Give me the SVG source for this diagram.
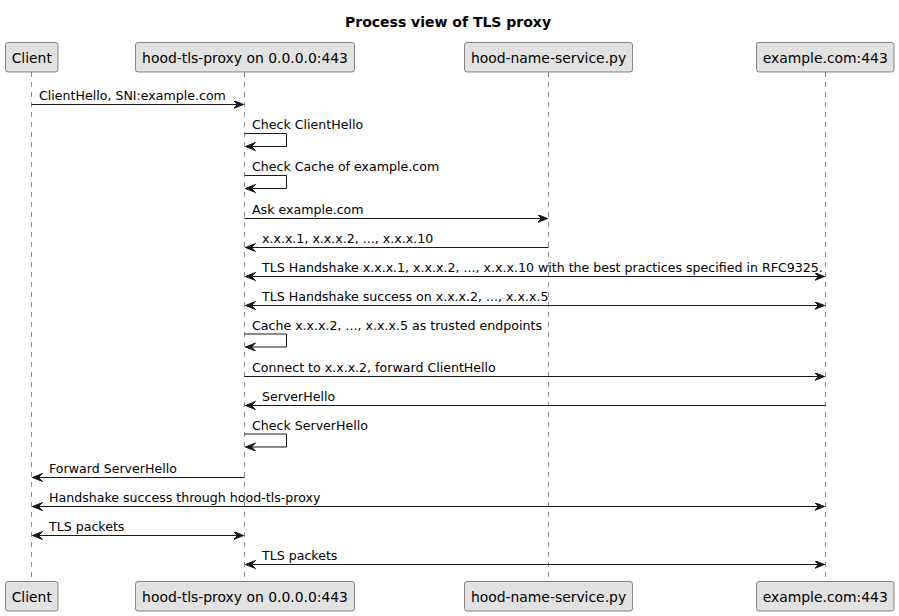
<svg xmlns="http://www.w3.org/2000/svg" width="899" height="616" viewBox="0 0 899 616">
<style>
.bg{fill:#FFFFFF}
.box{fill:#E2E2E2;stroke:#181818;stroke-width:0.5}
.pt{font-family:"DejaVu Sans","Liberation Sans",sans-serif;font-size:13.9px;fill:#000;text-anchor:middle}
.life{stroke:#181818;stroke-width:0.5;stroke-dasharray:5,5;fill:none}
.msg{stroke:#181818;stroke-width:1;fill:none}
.arr{marker-end:url(#ah)}
.bi{marker-start:url(#ah);marker-end:url(#ah)}
.lbl{font-family:"DejaVu Sans","Liberation Sans",sans-serif;font-size:12.6px;fill:#000}
.title{font-family:"DejaVu Sans","Liberation Sans",sans-serif;font-size:14px;font-weight:bold;fill:#000;text-anchor:middle}
</style>
<defs>
<marker id="ah" markerUnits="userSpaceOnUse" markerWidth="12" markerHeight="10" refX="10" refY="4" orient="auto-start-reverse" viewBox="0 0 12 10">
<path d="M0,0 L10,4 L0,8 L4,4 Z" fill="#181818" stroke="#181818" stroke-width="1"/>
</marker>
</defs>
<rect class="bg" x="0" y="0" width="899" height="616"/>
<text class="title" x="448" y="27">Process view of TLS proxy</text>

<g id="lifelines">
<line class="life" x1="31.5" y1="72" x2="31.5" y2="581.5"/>
<line class="life" x1="244.5" y1="72" x2="244.5" y2="581.5"/>
<line class="life" x1="548.5" y1="72" x2="548.5" y2="581.5"/>
<line class="life" x1="825.5" y1="72" x2="825.5" y2="581.5"/>
</g>

<g id="client">
<rect class="box" x="5.5" y="42.5" width="52.5" height="29.5" rx="2.5"/>
<text class="pt" x="31.75" y="63">Client</text>
<rect class="box" x="5.5" y="581.5" width="52.5" height="29.5" rx="2.5"/>
<text class="pt" x="31.75" y="602">Client</text>
</g>
<g id="proxy">
<rect class="box" x="135.5" y="42.5" width="219" height="29.5" rx="2.5"/>
<text class="pt" x="245" y="63">hood-tls-proxy on 0.0.0.0:443</text>
<rect class="box" x="135.5" y="581.5" width="219" height="29.5" rx="2.5"/>
<text class="pt" x="245" y="602">hood-tls-proxy on 0.0.0.0:443</text>
</g>
<g id="nameservice">
<rect class="box" x="464.5" y="42.5" width="168" height="29.5" rx="2.5"/>
<text class="pt" x="548.5" y="63">hood-name-service.py</text>
<rect class="box" x="464.5" y="581.5" width="168" height="29.5" rx="2.5"/>
<text class="pt" x="548.5" y="602">hood-name-service.py</text>
</g>
<g id="example">
<rect class="box" x="756.5" y="42.5" width="137.5" height="29.5" rx="2.5"/>
<text class="pt" x="825.25" y="63">example.com:443</text>
<rect class="box" x="756.5" y="581.5" width="137.5" height="29.5" rx="2.5"/>
<text class="pt" x="825.25" y="602">example.com:443</text>
</g>

<g id="connectors">
<line class="msg arr" x1="31.5" y1="104.5" x2="243.5" y2="104.5"/>
<text class="lbl" x="39" y="100">ClientHello, SNI:example.com</text>

<polyline class="msg arr" points="244.5,133.5 286.5,133.5 286.5,146.5 245.5,146.5"/>
<text class="lbl" x="252" y="129">Check ClientHello</text>

<polyline class="msg arr" points="244.5,175.5 286.5,175.5 286.5,188.5 245.5,188.5"/>
<text class="lbl" x="252" y="171">Check Cache of example.com</text>

<line class="msg arr" x1="244.5" y1="218.5" x2="547.5" y2="218.5"/>
<text class="lbl" x="252" y="214">Ask example.com</text>

<line class="msg arr" x1="548.5" y1="247.5" x2="245.5" y2="247.5"/>
<text class="lbl" x="262" y="243">x.x.x.1, x.x.x.2, ..., x.x.x.10</text>

<line class="msg bi" x1="245.5" y1="276.5" x2="824.5" y2="276.5"/>
<text class="lbl" x="262" y="272">TLS Handshake x.x.x.1, x.x.x.2, ..., x.x.x.10 with the best practices specified in RFC9325.</text>

<line class="msg bi" x1="245.5" y1="305.5" x2="824.5" y2="305.5"/>
<text class="lbl" x="262" y="301">TLS Handshake success on x.x.x.2, ..., x.x.x.5</text>

<polyline class="msg arr" points="244.5,334 286.5,334 286.5,347 245.5,347"/>
<text class="lbl" x="252" y="330">Cache x.x.x.2, ..., x.x.x.5 as trusted endpoints</text>

<line class="msg arr" x1="244.5" y1="376.5" x2="824.5" y2="376.5"/>
<text class="lbl" x="252" y="372">Connect to x.x.x.2, forward ClientHello</text>

<line class="msg arr" x1="825.5" y1="405.5" x2="245.5" y2="405.5"/>
<text class="lbl" x="262" y="401">ServerHello</text>

<polyline class="msg arr" points="244.5,434 286.5,434 286.5,447 245.5,447"/>
<text class="lbl" x="252" y="430">Check ServerHello</text>

<line class="msg arr" x1="244.5" y1="477.5" x2="32.5" y2="477.5"/>
<text class="lbl" x="49" y="473">Forward ServerHello</text>

<line class="msg bi" x1="32.5" y1="506.5" x2="824.5" y2="506.5"/>
<text class="lbl" x="49" y="502">Handshake success through hood-tls-proxy</text>

<line class="msg bi" x1="32.5" y1="535.5" x2="243.5" y2="535.5"/>
<text class="lbl" x="49" y="531">TLS packets</text>

<line class="msg bi" x1="245.5" y1="564.5" x2="824.5" y2="564.5"/>
<text class="lbl" x="262" y="560">TLS packets</text>
</g>
</svg>
